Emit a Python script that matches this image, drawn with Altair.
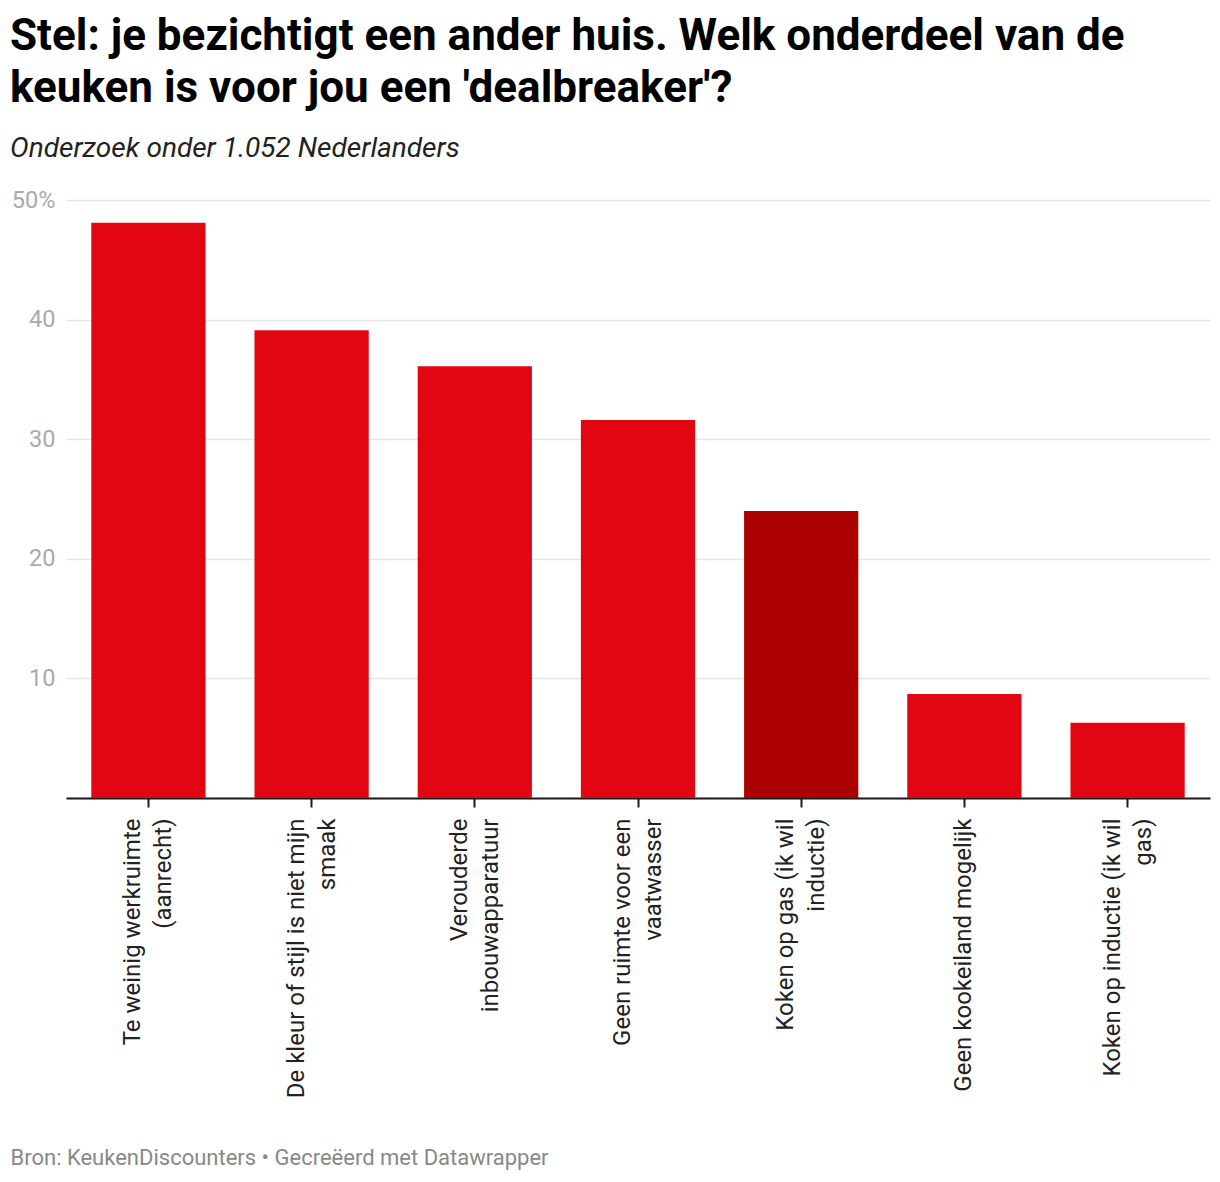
import altair as alt
import pandas as pd

categories = [
    "Te weinig werkruimte\n(aanrecht)",
    "De kleur of stijl is niet mijn\nsmaak",
    "Verouderde\ninbouwapparatuur",
    "Geen ruimte voor een\nvaatwasser",
    "Koken op gas (ik wil\ninductie)",
    "Geen kookeiland mogelijk",
    "Koken op inductie (ik wil\ngas)",
]
percentages = [48.1, 39.1, 36.1, 31.6, 24.0, 8.7, 6.3]
highlighted = [False, False, False, False, True, False, False]

df = pd.DataFrame(
    {"category": categories, "pct": percentages, "highlight": highlighted}
)

title = alt.TitleParams(
    text=[
        "Stel: je bezichtigt een ander huis. Welk onderdeel van de",
        "keuken is voor jou een 'dealbreaker'?",
    ],
    subtitle="Onderzoek onder 1.052 Nederlanders",
    anchor="start",
    frame="group",
    dx=-56,
    font="Roboto",
    fontSize=44,
    fontWeight="bold",
    color="#000000",
    lineHeight=52,
    subtitleFont="Roboto",
    subtitleFontSize=28,
    subtitleFontStyle="italic",
    subtitleColor="#222222",
    subtitlePadding=24,
    offset=25,
)

chart = (
    alt.Chart(df)
    .mark_bar()
    .encode(
        x=alt.X(
            "category:N",
            sort=None,
            scale=alt.Scale(paddingInner=0.3, paddingOuter=0.155),
            axis=alt.Axis(
                title="Bron: KeukenDiscounters • Gecreëerd met Datawrapper",
                titleFont="Roboto",
                titleFontSize=22,
                titleFontWeight="normal",
                titleColor="#888888",
                titleAlign="left",
                titleBaseline="middle",
                titleX=-56,
                titleY=359,
                labelAngle=270,
                labelExpr="split(datum.label, '\\n')",
                labelOffset=alt.condition(
                    "indexof(datum.value, '\\n') >= 0", alt.value(-15), alt.value(0)
                ),
                labelFont="Roboto",
                labelFontSize=24,
                labelColor="#222222",
                labelLineHeight=31,
                labelPadding=11,
                labelLimit=400,
                domainColor="#1a1a1a",
                domainWidth=2,
                tickColor="#1a1a1a",
                tickWidth=2,
                tickSize=9,
                grid=False,
            ),
        ),
        y=alt.Y(
            "pct:Q",
            scale=alt.Scale(domain=[0, 50], nice=False),
            axis=alt.Axis(
                title=None,
                values=[0, 10, 20, 30, 40, 50],
                labelExpr="datum.value == 50 ? '50%' : datum.value == 0 ? '' : datum.label",
                labelFont="Roboto",
                labelFontSize=23.5,
                labelColor="#aaaaaa",
                labelPadding=11,
                labelBaseline="middle",
                domain=False,
                ticks=False,
                gridColor="#e5e5e5",
                gridWidth=1.5,
            ),
        ),
        color=alt.Color(
            "highlight:N",
            scale=alt.Scale(domain=[False, True], range=["#e20613", "#ab0000"]),
            legend=None,
        ),
    )
    .properties(
        width=1144,
        height=598,
        title=title,
        autosize=alt.AutoSizeParams(type="none"),
        padding={"left": 58, "top": 192, "right": 2, "bottom": 376},
    )
    .configure_view(stroke=None)
)

chart.save("out.html", embed_options={"renderer": "svg", "actions": False})
